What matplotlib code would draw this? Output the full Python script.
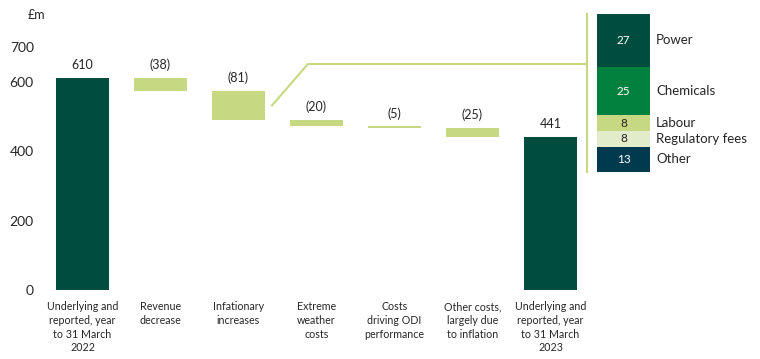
import matplotlib
matplotlib.use("Agg")
import matplotlib.pyplot as plt
import numpy as np

plt.rcParams['font.family'] = ['Lato', 'DejaVu Sans']

# waterfall data, £m
categories = ["Underlying and\nreported, year\nto 31 March\n2022", "Revenue\ndecrease",
              "Infationary\nincreases", "Extreme\nweather\ncosts", "Costs\ndriving ODI\nperformance",
              "Other costs,\nlargely due\nto inflation", "Underlying and\nreported, year\nto 31 March\n2023"]
start_value = 610
changes = [-38, -81, -20, -5, -25]
end_value = 441

# breakdown of inflationary increases
parts = ["Power", "Chemicals", "Labour", "Regulatory fees", "Other"]
part_values = [27, 25, 8, 8, 13]
part_colors = ["#004d40", "#00823e", "#c6d982", "#e3ecca", "#003a4f"]
part_text = ["white", "white", "#222222", "#222222", "white"]

dark = "#004d40"
light = "#c6d982"
ink = "#262626"

W, H = 760, 359
fig = plt.figure(figsize=(W / 100, H / 100), dpi=100)
ax = fig.add_axes([43.5 / W, (H - 290) / H, 546 / W, 276 / H])

# bar bottoms/heights
bottoms = [0]
heights = [start_value]
level = start_value
for c in changes:
    level += c
    bottoms.append(level)
    heights.append(-c)
bottoms.append(0)
heights.append(end_value)
colors = [dark] + [light] * len(changes) + [dark]
labels = [str(start_value)] + [f"({-c})" for c in changes] + [str(end_value)]

x = np.arange(len(categories))
ax.bar(x, heights, bottom=bottoms, width=0.68, color=colors)
for xi, b, h, lab in zip(x, bottoms, heights, labels):
    ax.annotate(lab, (xi, b + h), xytext=(0, 5), textcoords="offset points",
                ha="center", va="bottom", fontsize=9, color=ink)

ax.set_xlim(-0.5, 6.5)
ax.set_ylim(0, 795)
ax.set_yticks([0, 200, 400, 600, 700])
ax.set_xticks(x)
ax.set_xticklabels(categories, fontsize=7.7, color=ink, linespacing=1.3)
ax.tick_params(axis="both", length=0, colors=ink)
ax.tick_params(axis="y", labelsize=10, pad=7)
ax.tick_params(axis="x", pad=8)
for s in ax.spines.values():
    s.set_visible(False)
fig.text(28 / W, 1 - 15 / H, "£m", fontsize=9, color=ink, va="center")

# connector from inflationary bar to the breakdown
infl_mid = bottoms[2] + heights[2] / 2
ax.plot([2.43, 2.89, 6.468], [infl_mid, 651, 651], color=light, lw=1.5, clip_on=False)
ax.plot([6.468, 6.468], [340, 795], color=light, lw=1.5, clip_on=False)

# stacked breakdown
bx = fig.add_axes([597 / W, (H - 172) / H, 53 / W, 158 / H])
total = sum(part_values)
top = total
for name, v, col, tc in zip(parts, part_values, part_colors, part_text):
    bx.bar(0, v, bottom=top - v, width=1, color=col)
    bx.text(0, top - v / 2, str(v), ha="center", va="center", fontsize=8.5, color=tc)
    bx.text(0.5 + 6 / 53, top - v / 2, name, ha="left", va="center", fontsize=9.5,
            color=ink, clip_on=False)
    top -= v
bx.set_xlim(-0.5, 0.5)
bx.set_ylim(0, total)
bx.axis("off")

fig.savefig("out.png", dpi=100)
